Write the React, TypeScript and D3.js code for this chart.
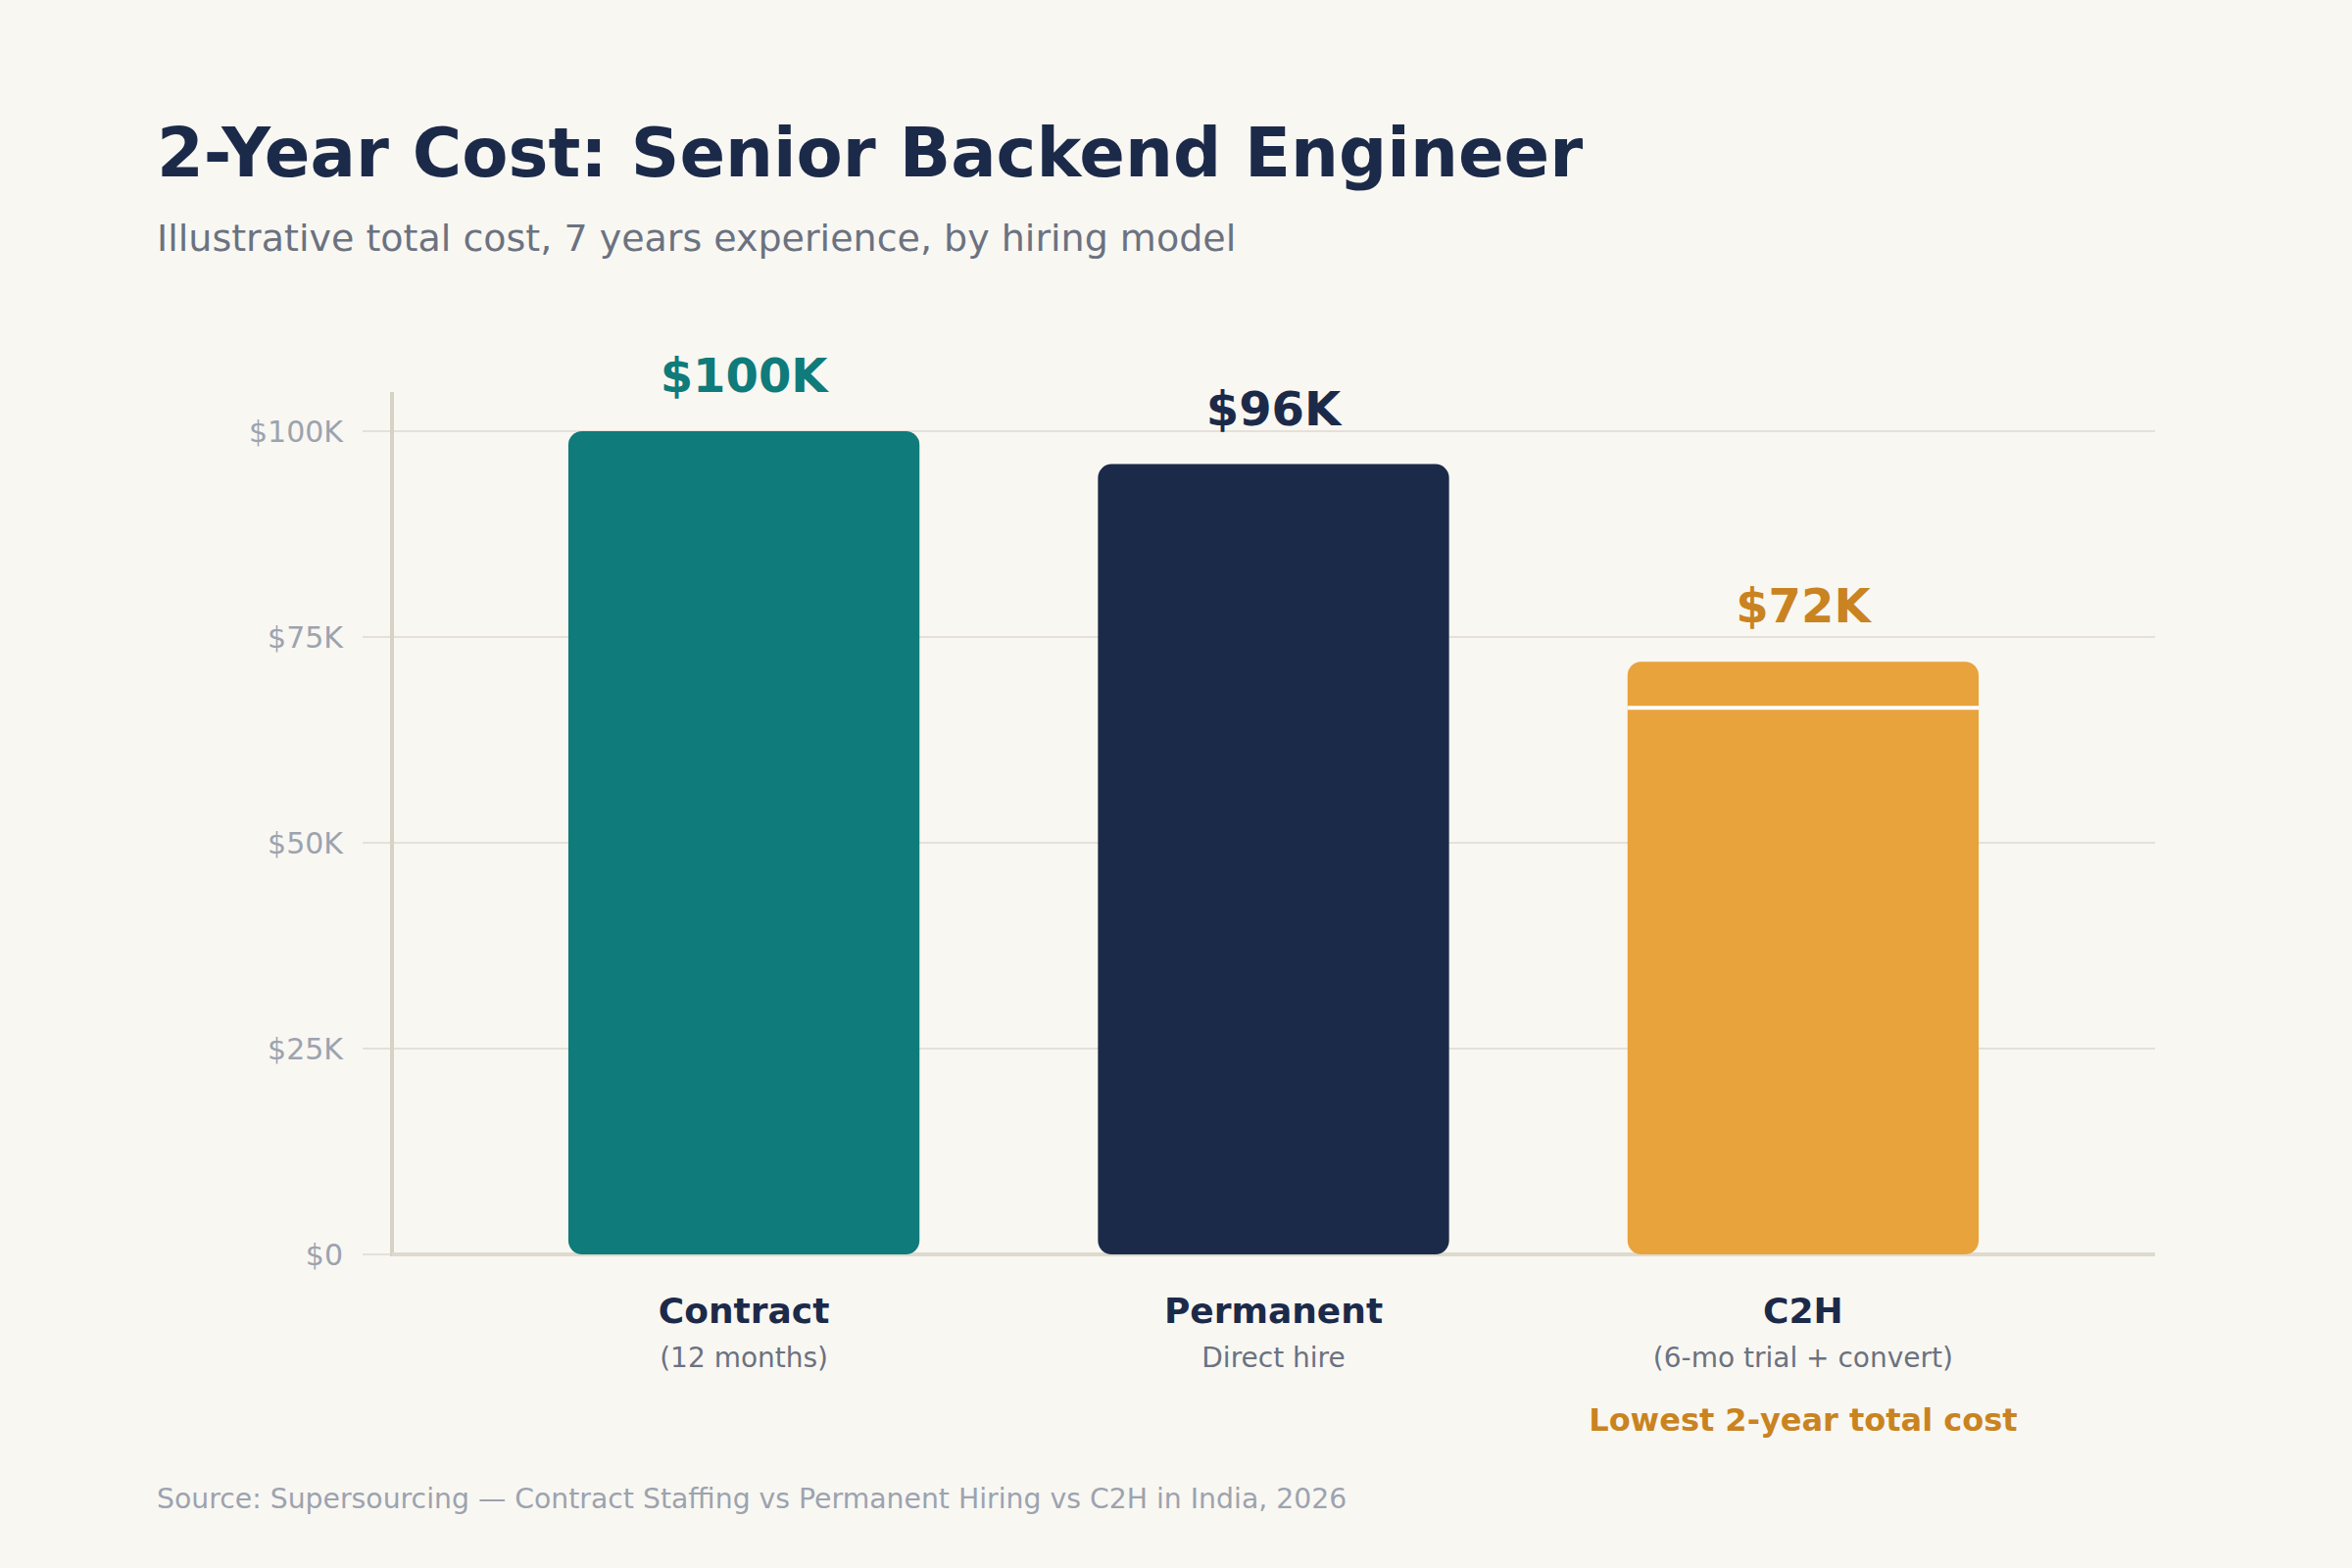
import React, { useEffect } from "react";
import * as d3 from "d3";

const categories = ["Contract", "Permanent", "C2H"];
const subLabels = ["(12 months)", "Direct hire", "(6-mo trial + convert)"];
const totals = [100, 96, 72]; // $K
const c2hSplit = 66.4; // $K, boundary line inside the C2H bar
const valueLabels = ["$100K", "$96K", "$72K"];
const yTicks = [0, 25, 50, 75, 100];
const yTickLabels = ["$0", "$25K", "$50K", "$75K", "$100K"];
const barColors = ["#0F7B7A", "#1C2A4A", "#E8A33D"];
const labelColors = ["#0F7B7A", "#1C2A4A", "#C98320"];

const W = 2400;
const H = 1600;
const FONT = "'DejaVu Sans', Verdana, sans-serif";

export default function App() {
  useEffect(() => {
    document.body.style.margin = "0";
  }, []);

  const plotLeft = 400;
  const plotRight = 2199;
  const plotTop = 400;
  const plotBottom = 1280;

  const y = d3.scaleLinear().domain([0, 100]).range([plotBottom, 440]);
  const x = d3
    .scaleBand<string>()
    .domain(categories)
    .range([plotLeft, plotRight])
    .paddingInner(0.337)
    .paddingOuter(0.333);

  const bw = x.bandwidth();
  const r = 14;

  return (
    <svg
      width={W}
      height={H}
      viewBox={`0 0 ${W} ${H}`}
      style={{ position: "absolute", left: 0, top: 0, display: "block" }}
      fontFamily={FONT}
    >
      <rect x={0} y={0} width={W} height={H} fill="#F9F7F2" />

      <text x={160} y={180} fontSize={68.8} fontWeight="bold" fill="#1C2A4A">
        2-Year Cost: Senior Backend Engineer
      </text>
      <text x={160} y={256} fontSize={38} fill="#6B7280">
        Illustrative total cost, 7 years experience, by hiring model
      </text>

      {/* gridlines */}
      {yTicks.map((t, i) => (
        <g key={t}>
          <line
            x1={370}
            x2={plotRight}
            y1={y(t)}
            y2={y(t)}
            stroke="#E6E0D8"
            strokeWidth={2}
          />
          <text
            x={350}
            y={y(t)}
            textAnchor="end"
            dominantBaseline="central"
            fontSize={30}
            fill="#9CA3AF"
          >
            {yTickLabels[i]}
          </text>
        </g>
      ))}

      {/* axes */}
      <line x1={plotLeft} x2={plotLeft} y1={plotTop} y2={plotBottom + 2} stroke="#D6D2C6" strokeWidth={4} />
      <line x1={plotLeft} x2={plotRight} y1={plotBottom} y2={plotBottom} stroke="#DEDAD0" strokeWidth={4} />

      {/* bars */}
      {categories.map((c, i) => {
        const bx = x(c)!;
        const top = y(totals[i]);
        return (
          <g key={c}>
            <rect
              x={bx}
              y={top}
              width={bw}
              height={y(0) - top}
              rx={r}
              ry={r}
              fill={barColors[i]}
            />
            {c === "C2H" && (
              <line
                x1={bx}
                x2={bx + bw}
                y1={y(c2hSplit)}
                y2={y(c2hSplit)}
                stroke="#FFFFFF"
                strokeWidth={4}
              />
            )}
            <text
              x={bx + bw / 2}
              y={top - 40}
              textAnchor="middle"
              fontSize={48}
              fontWeight="bold"
              fill={labelColors[i]}
            >
              {valueLabels[i]}
            </text>
            <text
              x={bx + bw / 2}
              y={1350}
              textAnchor="middle"
              fontSize={36}
              fontWeight="bold"
              fill="#1C2A4A"
            >
              {c}
            </text>
            <text
              x={bx + bw / 2}
              y={1395}
              textAnchor="middle"
              fontSize={28}
              fill="#6B7280"
            >
              {subLabels[i]}
            </text>
            {c === "C2H" && (
              <text
                x={bx + bw / 2}
                y={1460}
                textAnchor="middle"
                fontSize={32}
                fontWeight="bold"
                fill="#C98320"
              >
                Lowest 2-year total cost
              </text>
            )}
          </g>
        );
      })}

      <text x={160} y={1539} fontSize={28.3} fill="#9CA3AF">
        Source: Supersourcing — Contract Staffing vs Permanent Hiring vs C2H in India, 2026
      </text>
    </svg>
  );
}
